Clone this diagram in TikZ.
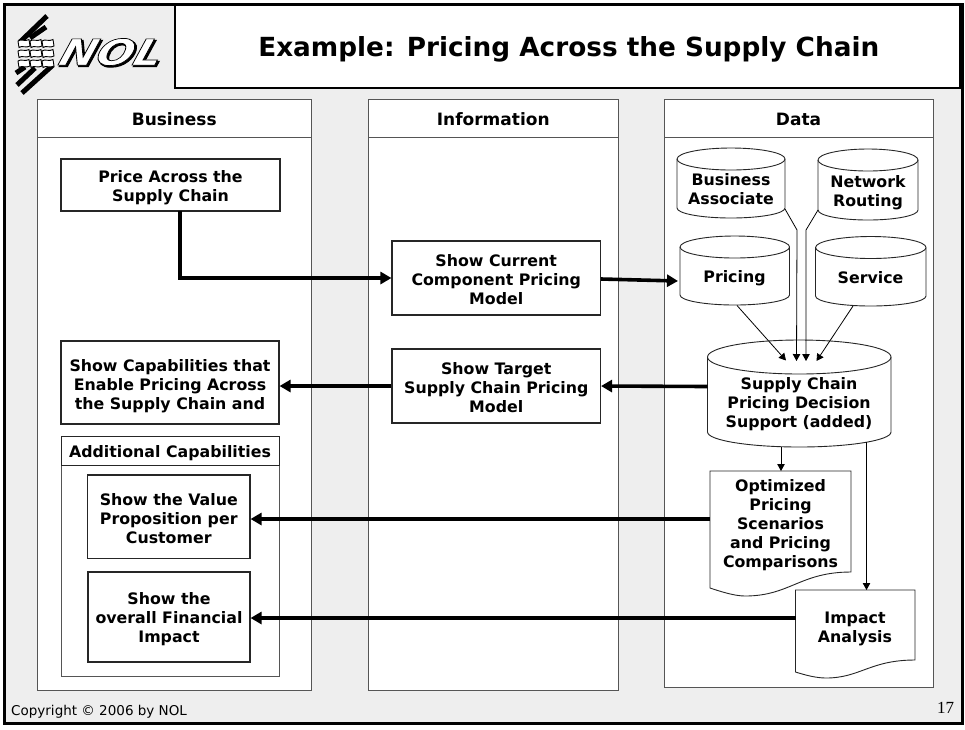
\documentclass[tikz,border=0pt]{standalone}
\usepackage{fontspec}
\setmainfont{DejaVu Sans}
\newfontfamily\numfont{Liberation Serif}
\usetikzlibrary{arrows.meta,calc}
\definecolor{pagebg}{HTML}{EEEEEE}
\definecolor{colline}{HTML}{555555}
\newcommand{\dn}[1]{\rule{0pt}{#1pt}}
\tikzset{
  colbox/.style={draw=colline,fill=white,line width=1pt,rectangle,inner sep=0pt},
  headtext/.style={colbox,text height=14pt,text depth=0pt,font=\fontsize{17}{19}\selectfont\bfseries},
  procbox/.style={draw=black!85,fill=white,line width=1.1pt,rectangle,inner sep=0pt,align=center,font=\fontsize{15.8}{19}\selectfont\bfseries},
  label/.style={rectangle,inner sep=0pt,align=center,font=\fontsize{15.8}{19}\selectfont\bfseries},
  shapeline/.style={draw=black!85,fill=white,line width=0.9pt},
  thick arrow/.style={line width=3.6pt,black,-{Triangle[length=11pt,width=12pt]}},
  thin arrow/.style={line width=0.8pt,black,-{Triangle[length=7pt,width=7.5pt]}},
  weave/.style={draw=black,fill=white,line width=0.9pt},
  stripe/.style={line width=5pt,black}
}
% x1, ytop, x2, ybot, top radius, bottom radius
\newcommand{\dbshape}[6]{%
  \pgfmathsetmacro{\rxv}{(#3-#1)/2}%
  \path[shapeline] (#1,#2+#5) arc[start angle=180,end angle=0,x radius=\rxv pt,y radius=#5 pt]
     -- (#3,#4-#6) arc[start angle=0,end angle=-180,x radius=\rxv pt,y radius=#6 pt] -- cycle;
  \draw[draw=black!85,line width=0.9pt] (#1,#2+#5) arc[start angle=180,end angle=360,x radius=\rxv pt,y radius=#5 pt];
}
% small woven cell of the logo
\newcommand{\wcell}[2]{%
  \path[weave] (#1,#2) .. controls (#1+3,#2-2.5) and (#1+7,#2+1) .. (#1+11,#2-1.5)
     -- (#1+12,#2+5) .. controls (#1+8,#2+7.5) and (#1+4,#2+4) .. (#1+1,#2+6.5) -- cycle;
}
\begin{document}
\begin{tikzpicture}[x=1pt,y=-1pt]
\useasboundingbox (0,0) rectangle (965,729);
\fill[white] (0,0) rectangle (965,729);
% page frame
\node[fill=pagebg,rectangle,inner sep=0pt,minimum width=958pt,minimum height=718pt] (page) at (483.5,364) {};
\node[draw=black,fill=white,line width=1.2pt,rectangle,inner sep=0pt,minimum width=785pt,minimum height=83pt] (titlebox) at (567.5,46.5) {};
\node[inner sep=0pt,text height=19pt,text depth=5pt,font=\fontsize{26.3}{30}\selectfont\bfseries] (title) at (568.75,49) {Example: Pricing Across the Supply Chain};
\draw[black,line width=3pt] (4,4.5) -- (962.5,4.5) -- (962.5,723) -- (4,723) -- cycle;
% logo
\draw[stripe] (20,42) -- (47,16);
\draw[stripe] (30,38) -- (46,27);
\draw[stripe] (16,73) -- (25,67);
\draw[stripe] (17,85) -- (35,68);
\draw[stripe] (22,93) -- (53,65);
\foreach \yy in {0,1,2}{
  \wcell{18}{41+\yy*10}
  \wcell{30}{41+\yy*10}
  \wcell{42}{41+\yy*10}
}
\node[inner sep=0pt,xscale=1.22,xslant=0.25,black,font=\fontsize{36}{38}\selectfont\bfseries\itshape] (nolshadow) at (113.5,53.5) {\special{pdf:code q 0 g 0 G 1.2 w 2 Tr}NOL\special{pdf:code Q}};
\node[inner sep=0pt,xscale=1.22,xslant=0.25,font=\fontsize{36}{38}\selectfont\bfseries\itshape] (nol) at (112,52) {\special{pdf:code q 1 g 0 G 0.7 w 2 Tr}NOL\special{pdf:code Q}};
% columns
\node[colbox,minimum width=274.5pt,minimum height=591pt] (buscol) at (174.25,394.5) {};
\node[colbox,minimum width=249.5pt,minimum height=591pt] (infocol) at (493.25,394.5) {};
\node[colbox,minimum width=269pt,minimum height=588pt] (datacol) at (798.5,393) {};
\node[headtext,minimum width=274.5pt,minimum height=38.5pt] (bushead) at (174.25,118.25) {Business};
\node[headtext,minimum width=249.5pt,minimum height=38.5pt] (infohead) at (493.25,118.25) {Information};
\node[headtext,minimum width=269pt,minimum height=38.5pt] (datahead) at (798.5,118.25) {Data};
% business boxes
\node[procbox,minimum width=219pt,minimum height=52pt] (price) at (170.5,185) {\dn{18}Price Across the\\Supply Chain};
\node[procbox,minimum width=218pt,minimum height=83pt] (capab) at (170,382.5) {\dn{19}Show Capabilities that\\Enable Pricing Across\\the Supply Chain and};
\node[colbox,minimum width=218pt,minimum height=240pt] (addbox) at (170,556) {};
\node[colbox,draw=black!85,text height=13pt,text depth=0pt,minimum width=218pt,minimum height=29pt,font=\fontsize{15.8}{19}\selectfont\bfseries] (addhead) at (170,450.5) {Additional Capabilities};
\node[procbox,minimum width=162.5pt,minimum height=83.5pt] (value) at (168.75,516.75) {\dn{15}Show the Value\\Proposition per\\Customer};
\node[procbox,minimum width=162pt,minimum height=90pt] (overall) at (169,617) {\dn{16}Show the\\overall Financial\\Impact};
% information boxes
\node[procbox,minimum width=208.5pt,minimum height=74pt] (current) at (496.25,278) {\dn{15}Show Current\\Component Pricing\\Model};
\node[procbox,minimum width=208.5pt,minimum height=74pt] (target) at (496.25,386) {\dn{15}Show Target\\Supply Chain Pricing\\Model};
% data stores
\dbshape{677}{148}{785}{218}{11}{10}
\node[label] (ba) at (731,189.5) {Business\\Associate};
\dbshape{818}{149}{918}{220}{11}{10}
\node[label] (nr) at (868,192.5) {Network\\Routing};
\dbshape{680}{236}{789.5}{305}{11}{10}
\node[label] (pricing) at (734.5,278) {Pricing};
\dbshape{815.5}{236.5}{926}{306}{11}{10}
\node[label] (service) at (870.5,278) {Service};
\dbshape{707.5}{340}{891}{447}{17}{15}
\node[label] (scdb) at (799,404) {Supply Chain\\Pricing Decision\\Support (added)};
% documents
\path[shapeline] (710,471) -- (851,471) -- (851,572) .. controls (800,572) and (790,596) .. (745,596) .. controls (735,596) and (722,592) .. (710,588) -- cycle;
\node[label] (optdoc) at (780.5,525) {Optimized\\Pricing\\Scenarios\\and Pricing\\Comparisons};
\path[shapeline] (795.5,590) -- (915,590) -- (915,660) .. controls (870,660) and (860,678) .. (826,678) .. controls (816,678) and (805,675) .. (795.5,672) -- cycle;
\node[label] (impact) at (855,628.5) {Impact\\Analysis};
% connector end points
\coordinate (dbW) at (707.5,386.5);
\coordinate (dbA) at (786,360.5);
\coordinate (dbB) at (796.5,361);
\coordinate (dbC) at (806,361);
\coordinate (dbD) at (816.5,361);
\coordinate (baOut) at (785,209);
\coordinate (baBend) at (797,230);
\coordinate (nrOut) at (818,210);
\coordinate (nrBend) at (806,230);
\coordinate (prOut) at (737,305.5);
\coordinate (svOut) at (853,306);
\coordinate (dbOptOut) at (781,447);
\coordinate (dbImpOut) at (866.5,442);
\coordinate (optW) at (710,519);
\coordinate (optN) at (781,471);
\coordinate (impW) at (795.5,618);
\coordinate (impN) at (866.5,590);
\coordinate (prW) at (678,281);
\coordinate (priceOut) at (180,211);
\coordinate (priceBend) at (180,278);
% thick connectors
\draw[thick arrow] (priceOut) -- (priceBend) -- (current.west);
\draw[thick arrow] (current.east) ++(0,1) -- (prW);
\draw[thick arrow] (dbW) -- (target.east);
\draw[thick arrow] (target.west) -- (capab.east |- target.west);
\draw[thick arrow] (optW) -- (value.east |- optW);
\draw[thick arrow] (impW) -- (overall.east |- impW);
% thin connectors
\draw[thin arrow] (baOut) -- (baBend) -- (dbB);
\draw[thin arrow] (nrOut) -- (nrBend) -- (dbC);
\draw[thin arrow] (prOut) -- (dbA);
\draw[thin arrow] (svOut) -- (dbD);
\draw[thin arrow] (dbOptOut) -- (optN);
\draw[thin arrow] (dbImpOut) -- (impN);
% footer
\node[inner sep=0pt,anchor=west,font=\fontsize{13.5}{15}\selectfont] (copy) at (11,712) {Copyright © 2006 by NOL};
\node[inner sep=0pt,font=\numfont\fontsize{17}{18}\selectfont] (pagenum) at (945.5,708) {17};
\end{tikzpicture}
\end{document}
